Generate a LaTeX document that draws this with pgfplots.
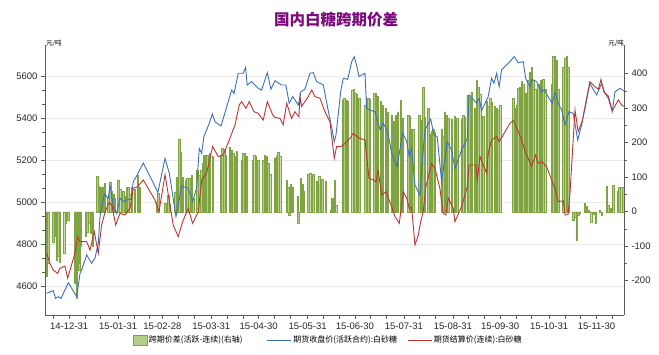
\documentclass[border=0pt]{standalone}
\usepackage{pgfplots}
\pgfplotsset{compat=1.18}
\usepackage{fontspec}
\setmainfont{Liberation Sans}
\newfontfamily\cjk{Noto Sans CJK SC}
\definecolor{barfill}{RGB}{181,206,133}
\definecolor{baredge}{RGB}{128,163,68}
\definecolor{blueline}{RGB}{60,112,185}
\definecolor{redline}{RGB}{190,52,52}
\definecolor{titlec}{RGB}{125,10,125}
\definecolor{axisc}{RGB}{90,90,90}
\definecolor{gridc}{RGB}{232,232,232}
\pgfplotsset{
  base/.style={set layers, at={(45pt,39pt)}, anchor=south west, scale only axis,
    width=579pt, height=270pt, xmin=-15.3, xmax=351.4,
    x filter/.expression={(x-4.35)/0.9956},
    tick align=outside, major tick length=4pt, minor tick length=2.5pt,
    axis line style={axisc, line width=0.8pt}, tick style={axisc, line width=0.6pt},
    /pgf/number format/assume math mode=true,
    /pgf/number format/set thousands separator={},
    ticklabel style={font=\fontsize{9.5}{11}\selectfont, text=black!85},
  }
}
\begin{document}
\begin{tikzpicture}
\begin{axis}[base, ymin=-299.4, ymax=483.2, axis x line=none, axis y line*=right,
  ytick={-200,-100,...,400}, minor y tick num=1]
\addplot[ybar, bar width=0.85, fill=barfill, draw=baredge, line width=0.3pt] table {
-9.8 -188
-8.8 -150
-5.7 -87
-4.6 -72
-3.5 -140
-2.5 -130
-1.5 -145
1.1 -121
2.3 -34
3.8 -25
8.0 -208
9.1 -251
10.1 -150
10.7 -170
11.6 -101
14.9 -72
15.8 -58
17.0 -34
17.9 -63
19.2 -101
22.1 103
23.1 74
24.4 72
25.5 72
26.9 82
29.0 43
30.1 87
31.1 60
32.2 50
33.2 40
35.3 92
36.4 64
37.5 55
38.5 60
39.5 45
40.8 72
41.6 70
42.7 50
43.8 72
45.8 65
47.5 106
48.6 72
59.5 29
60.5 53
64.8 24
65.8 22
66.8 48
67.9 22
71.1 58
72.1 101
73.8 210
74.8 174
75.9 101
78.0 92
78.8 97
80.1 98
81.6 106
82.6 40
85.1 120
86.4 106
87.5 120
88.5 140
89.5 164
90.2 160
91.4 164
92.3 140
93.1 169
94.8 160
99.9 165
100.9 184
102.1 180
103.2 165
105.7 188
106.8 179
107.8 170
108.9 160
110.0 175
113.1 150
114.1 170
115.2 170
116.3 160
120.1 150
120.9 164
122.1 160
123.6 150
126.7 150
127.8 164
128.9 160
129.9 140
131.0 110
134.1 155
135.2 160
136.2 174
137.3 160
141.5 92
142.5 72
143.1 -9
144.0 80
145.3 72
148.4 45
148.8 -32
150.3 97
151.6 80
152.0 60
155.1 109
156.2 111
157.3 90
158.3 109
160.4 90
161.9 103
162.9 80
163.9 95
166.1 90
169.2 5
170.1 40
170.9 35
171.9 92
172.6 20
176.8 324
177.8 329
178.9 324
179.7 320
182.7 353
183.9 355
184.7 345
185.6 340
187.3 330
190.9 309
191.9 330
192.9 330
194.0 326
196.7 343
197.8 343
198.9 336
200.9 320
202.0 310
204.1 300
205.2 290
207.7 280
209.1 262
210.2 280
211.5 290
213.4 324
214.6 270
218.2 280
219.2 276
220.3 240
221.3 240
225.1 280
226.6 265
227.6 362
228.7 275
230.8 300
231.8 225
232.9 233
233.9 240
235.0 230
239.2 240
240.2 218
241.3 290
242.4 280
243.4 270
245.7 267
247.6 276
249.1 270
251.8 267
252.8 280
253.9 274
255.4 338
256.6 330
258.1 346
260.2 300
261.3 382
262.3 360
263.4 340
265.5 277
267.6 320
268.6 305
269.7 330
270.7 318
272.8 305
273.9 300
274.9 295
276.0 310
284.4 329
285.4 300
286.5 310
287.5 358
288.6 360
289.7 377
290.7 370
292.2 345
293.8 380
294.7 405
296.0 420
297.0 380
298.1 355
300.1 370
301.8 380
303.3 385
304.4 355
308.6 370
309.6 451
310.5 451
311.7 440
312.7 355
315.9 420
317.0 445
318.0 451
319.0 420
322.2 -24
323.3 -15
324.3 -82
325.3 -10
326.4 -5
329.5 24
330.6 15
332.1 5
333.4 -29
334.8 -8
336.3 -33
339.0 5
340.1 -10
343.3 74
344.3 20
345.3 10
346.4 10
347.4 77
350.2 60
351.2 71
352.3 70
353.7 70
};
\end{axis}
\begin{axis}[base, ymin=4461.9, ymax=5747.6, axis y line*=left, axis x line*=bottom,
  ytick={4600,4800,...,5600}, minor y tick num=2, ymajorgrids,
  grid style={gridc, line width=0.5pt},
  xtick={-10,0,10,20,31,41,51,59,69,79,90,100,110,120,130,140,151,161,171,181,191,201,212,222,232,243,253,263,273,283,293,304,314,324,334,344},
  xticklabels={,14-12-31,,,15-01-31,,,15-02-28,,,15-03-31,,,15-04-30,,,15-05-31,,,15-06-30,,,15-07-31,,,15-08-31,,,15-09-30,,,15-10-31,,,15-11-30,},
  legend style={at={(0.489,-0.093)}, anchor=center, draw=none, fill=none,
    legend columns=3, font=\cjk\fontsize{8}{10}\selectfont,
    /tikz/column 2/.style={column sep=22pt},
    /tikz/column 4/.style={column sep=8pt}},
]
\addlegendimage{legend image code/.code={\draw[fill=barfill,draw=baredge,line width=0.3pt] (0pt,-5pt) rectangle (14pt,5pt);}}
\addlegendentry{跨期价差(活跃-连续)(右轴)}
\addplot[blueline, line width=0.9pt, legend image code/.code={\draw[blueline,line width=0.9pt] (0pt,0pt) -- (24pt,0pt);}] table {
-9.8 4565
-5.7 4578
-4.2 4541
-2.5 4549
-0.8 4541
3.8 4616
9.1 4549
11.2 4660
12.2 4676
15.4 4748
18.5 4708
20.6 4732
22.7 4803
23.8 4930
26.5 5038
29.0 5018
30.1 5081
32.2 4978
34.3 4946
36.4 5018
38.5 5002
40.6 5010
43.3 5013
44.8 5097
46.9 5124
51.1 5186
60.3 5046
64.8 5208
67.5 5137
71.7 4930
75.3 5076
79.4 5065
82.2 5002
84.7 5065
86.4 5255
87.9 5232
89.3 5311
92.7 5375
94.6 5419
96.3 5382
100.1 5362
102.0 5410
106.8 5533
108.3 5517
111.0 5613
114.1 5613
115.6 5641
116.6 5557
119.4 5573
123.6 5541
125.7 5533
129.3 5616
131.6 5537
134.1 5578
138.3 5557
141.0 5557
143.1 5470
145.3 5502
148.8 5462
150.5 5525
153.0 5537
156.2 5613
158.3 5616
160.4 5573
164.6 5557
167.7 5435
170.2 5343
171.5 5287
172.6 5319
175.7 5533
177.2 5589
180.0 5584
182.5 5668
184.1 5692
185.6 5652
187.1 5597
190.9 5613
191.9 5446
194.0 5438
197.2 5430
200.4 5343
202.4 5375
205.2 5335
207.7 5232
211.2 5168
214.6 5330
217.2 5287
218.8 5216
220.3 5256
222.4 5081
225.5 5033
226.6 5160
228.7 5343
232.3 5395
234.4 5319
236.4 5311
239.2 5097
242.7 5287
245.5 5248
247.6 5160
251.8 5248
255.4 5303
256.6 5510
261.3 5470
262.9 5494
264.4 5435
268.6 5502
270.7 5589
272.2 5565
273.9 5613
275.5 5549
277.0 5629
281.2 5660
285.0 5692
287.5 5663
290.7 5668
292.2 5589
294.9 5549
296.3 5584
299.1 5573
302.3 5525
303.9 5535
306.9 5494
309.0 5470
310.7 5525
312.7 5470
314.9 5438
317.0 5367
319.5 5430
322.2 5422
325.0 5295
327.5 5367
332.7 5565
334.8 5537
337.0 5510
340.1 5565
342.2 5517
344.3 5494
346.8 5430
348.5 5525
351.7 5541
354.0 5530
};
\addlegendentry{期货收盘价(活跃合约):白砂糖}
\addplot[redline, line width=0.9pt, legend image code/.code={\draw[redline,line width=0.9pt] (0pt,0pt) -- (24pt,0pt);}] table {
-9.8 4756
-7.8 4708
-5.7 4676
-2.9 4660
-1.5 4684
1.7 4695
3.4 4637
8.0 4756
9.7 4835
11.2 4811
15.4 4811
17.5 4771
20.2 4859
22.7 4756
24.8 4890
26.9 4949
29.4 4997
31.3 4985
33.7 4890
36.4 4946
39.5 4938
42.7 4970
44.8 5065
47.5 5073
51.1 5105
58.4 5010
61.0 4954
64.8 5130
70.0 4890
73.1 4835
75.9 4906
79.4 4970
82.2 4898
85.8 4954
87.9 5105
91.0 5137
94.8 5264
98.4 5216
101.5 5224
105.3 5295
108.9 5367
111.6 5462
113.1 5478
115.8 5446
117.9 5478
120.9 5430
123.6 5422
126.7 5390
129.3 5478
132.7 5414
134.1 5403
137.3 5398
139.3 5367
141.5 5470
144.6 5398
146.7 5430
149.2 5406
149.9 5502
150.9 5454
153.0 5478
155.1 5502
157.3 5533
159.3 5502
162.5 5494
165.6 5430
168.8 5382
171.5 5208
173.0 5264
175.7 5264
178.3 5279
181.4 5303
183.5 5327
185.2 5315
187.7 5303
190.9 5295
193.4 5113
196.1 5105
197.8 5095
199.2 5152
201.4 5033
204.1 5049
207.7 4978
209.8 4930
212.5 4898
215.0 5049
217.2 5018
218.8 4970
220.3 4975
222.4 4795
224.5 4843
226.0 4906
227.6 4954
229.3 5073
232.9 5184
235.0 5160
238.1 5065
240.2 4946
241.9 4938
243.4 5018
246.5 4970
247.6 4906
251.8 4978
255.4 5073
256.6 5176
260.8 5176
261.7 5105
263.4 5216
267.6 5137
268.6 5232
270.7 5295
273.9 5311
275.5 5287
282.3 5375
284.4 5387
287.1 5343
289.7 5295
292.2 5232
296.0 5171
298.5 5224
300.1 5184
302.6 5192
305.4 5168
308.6 5105
310.7 5065
312.7 5002
315.9 5006
317.0 4938
318.9 4940
320.2 5049
323.3 5438
325.3 5335
327.9 5387
332.7 5573
335.9 5549
338.0 5537
339.7 5584
341.4 5525
344.3 5505
346.8 5435
348.9 5462
350.6 5486
352.7 5462
354.0 5455
};
\addlegendentry{期货结算价(连续):白砂糖}
\end{axis}
\node[font=\cjk\bfseries\fontsize{15.5}{17}\selectfont, text=titlec] at (336pt,334pt) {国内白糖跨期价差};
\node[font=\cjk\fontsize{6.5}{7}\selectfont, anchor=west, inner sep=0pt] at (46pt,311pt) {元/吨};
\node[font=\cjk\fontsize{6.5}{7}\selectfont, anchor=east, inner sep=0pt] at (624pt,311pt) {元/吨};
\pgfresetboundingbox
\useasboundingbox (0,0) rectangle (659pt,354pt);
\end{tikzpicture}
\end{document}
